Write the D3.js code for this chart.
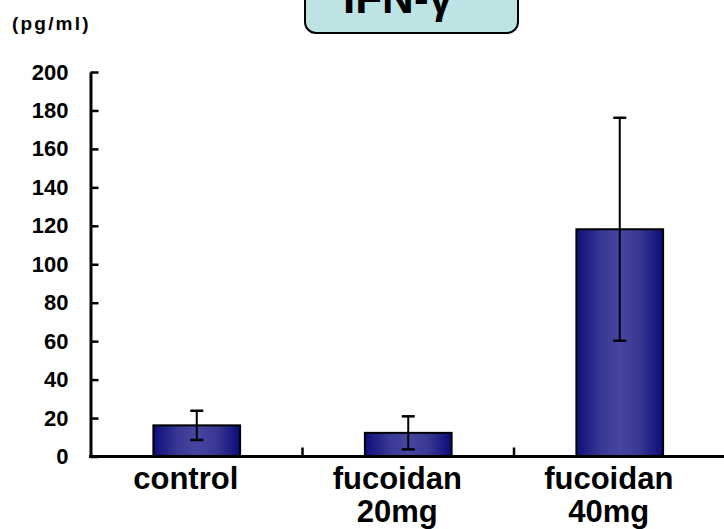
<!DOCTYPE html>
<html><head><meta charset="utf-8">
<script src="https://cdn.jsdelivr.net/npm/d3@7"></script>
<style>body{margin:0;background:#fff}svg{display:block}text{font-family:Arial,"Liberation Sans",sans-serif;font-weight:bold;fill:#000}</style>
</head><body>
<script>
const categories = ["control", "fucoidan\n20mg", "fucoidan\n40mg"];
const values = [16.2, 12.3, 118.2];
const errors = [7.6, 8.6, 58];
const yTicks = [0, 20, 40, 60, 80, 100, 120, 140, 160, 180, 200];
const title = "IFN-γ";
const unitLabel = "(pg/ml)";

const W = 724, H = 529;
const svg = d3.select("body").append("svg").attr("width", W).attr("height", H);

const defs = svg.append("defs");
const g = defs.append("linearGradient").attr("id", "barGrad").attr("x1", "0%").attr("x2", "100%");
[["0%", "#0e0e7c"], ["30%", "#3a3a96"], ["50%", "#4646a0"], ["72%", "#393994"], ["100%", "#0b0b78"]]
  .forEach(([o, c]) => g.append("stop").attr("offset", o).attr("stop-color", c));

const y = d3.scaleLinear().domain([0, 200]).range([456.5, 72]);
const x = d3.scaleBand().domain(categories).range([91, 725.5]).padding(0);
const barW = x.bandwidth() * 0.41;

// title box
svg.append("rect").attr("x", 305).attr("y", -20).attr("width", 213).attr("height", 53)
  .attr("rx", 11).attr("fill", "#bde3e5").attr("stroke", "#000").attr("stroke-width", 2);
svg.append("text").attr("x", 398).attr("y", 13).attr("text-anchor", "middle")
  .style("font-size", "44px").text(title);

svg.append("text").attr("x", 12).attr("y", 30).style("font-size", "19px")
  .style("letter-spacing", "2.2px").text(unitLabel);

// y axis
const yAxis = d3.axisLeft(y).tickValues(yTicks).tickSizeInner(-8).tickSizeOuter(0).tickPadding(22);
const ya = svg.append("g").attr("transform", "translate(90.5,0)").call(yAxis);
ya.select(".domain").attr("stroke", "#000").attr("stroke-width", 3);
ya.selectAll(".tick line").attr("stroke", "#000").attr("stroke-width", 2.5);
ya.selectAll(".tick text").style("font-size", "22px").style("font-family", "Arial, 'Liberation Sans', sans-serif").style("font-weight", "bold").attr("fill", "#000");

// bars
const bars = svg.append("g");
categories.forEach((c, i) => {
  const cx = x(c) + x.bandwidth() / 2;
  bars.append("rect").attr("x", cx - barW / 2).attr("y", y(values[i]))
    .attr("width", barW).attr("height", y(0) - y(values[i]))
    .attr("fill", "url(#barGrad)").attr("stroke", "#000").attr("stroke-width", 2);
  const top = y(values[i] + errors[i]), bot = y(values[i] - errors[i]);
  bars.append("line").attr("x1", cx).attr("x2", cx).attr("y1", top).attr("y2", bot)
    .attr("stroke", "#000").attr("stroke-width", 2);
  [top, bot].forEach(v => bars.append("line").attr("x1", cx - 6.5).attr("x2", cx + 6.5)
    .attr("y1", v).attr("y2", v).attr("stroke", "#000").attr("stroke-width", 2.5));
});

// x axis
svg.append("line").attr("x1", 89).attr("x2", W).attr("y1", y(0)).attr("y2", y(0))
  .attr("stroke", "#000").attr("stroke-width", 3);
categories.slice(1).forEach(c => svg.append("line").attr("x1", x(c)).attr("x2", x(c))
  .attr("y1", y(0)).attr("y2", y(0) - 9).attr("stroke", "#000").attr("stroke-width", 2.5));

// x labels
categories.forEach((c, i) => {
  const cx = x(c) + x.bandwidth() / 2 - 11;
  const t = svg.append("text").attr("text-anchor", "middle").style("font-size", "31px");
  c.split("\n").forEach((line, j) => t.append("tspan").attr("x", cx).attr("y", 489 + j * 33).text(line));
});
</script>
</body></html>
